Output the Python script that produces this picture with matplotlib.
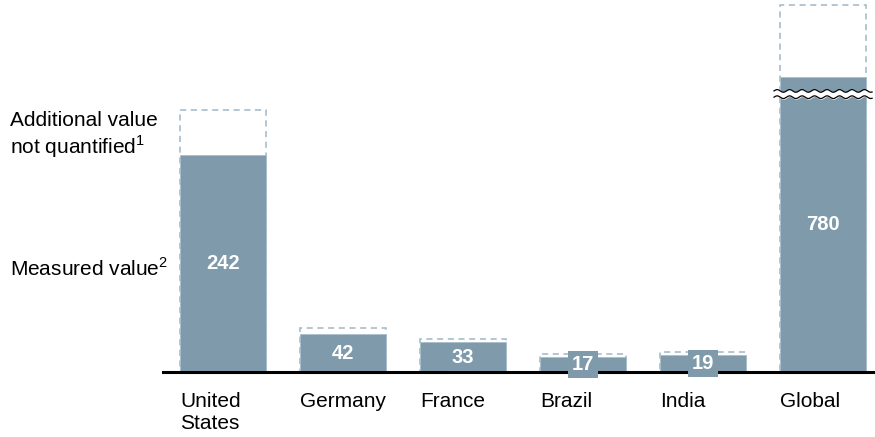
import matplotlib.pyplot as plt
import numpy as np

plt.rcParams['font.family'] = ['Liberation Sans', 'DejaVu Sans']
plt.rcParams['mathtext.fontset'] = 'custom'
plt.rcParams['mathtext.rm'] = 'Liberation Sans'

# Data
categories = ['United\nStates', 'Germany', 'France', 'Brazil', 'India', 'Global']
measured = [242, 42, 33, 17, 19, 780]
additional = [50, 7, 4, 3, 3, 80]
global_shown = 329   # height drawn for the broken Global bar

bar_color = '#7f9bab'
dash_color = '#9fb7c8'

fig = plt.figure(figsize=(8.75, 4.37), dpi=100)
# axes spans from the baseline start (x=163px) to the right edge, baseline at y=372px
ax = fig.add_axes([163 / 875, 65 / 437, 712 / 875, 372 / 437])
ax.set_xlim(-0.5, 5.433)
ax.set_ylim(0, 414.9)
ax.axis('off')

x = np.arange(len(categories))
w = 0.717
heights = [m if m < 400 else global_shown for m in measured]

# dashed boxes for the unquantified part
ax.bar(x, [h + a for h, a in zip(heights, additional)], w, fill=False,
       edgecolor=dash_color, linestyle=(0, (4, 3)), linewidth=1.1, zorder=1)
ax.bar(x, heights, w, color=bar_color, edgecolor='#a9bfcc', linewidth=0.6, zorder=2)

# baseline
ax.axhline(0, xmin=0, xmax=1, color='black', linewidth=2.2, zorder=3, clip_on=False)

# value labels
for xi, h, m in zip(x, heights, measured):
    ax.text(xi, h / 2, str(m), ha='center', va='center', color='white',
            fontsize=14.5, fontweight='bold', zorder=4,
            bbox=dict(boxstyle='square,pad=0.2', fc=bar_color, ec='none'))

# category labels
for xi, c in zip(x, categories):
    ax.text(xi - w / 2, -22, c, ha='left', va='top', fontsize=15,
            linespacing=1.2, clip_on=False)

# axis break on the Global bar
gx = x[-1]
wx = np.linspace(gx - w / 2 - 0.05, gx + w / 2 + 0.05, 300)
wave = 1.5 * np.sin(2 * np.pi * (wx - wx[0]) / 0.104)
y_lo, y_hi = 306.5, 313.5
ax.fill_between(wx, y_lo + wave, y_hi + wave, color='white', zorder=5, clip_on=False)
ax.plot(wx, y_lo + wave, color='black', linewidth=0.9, zorder=6, clip_on=False)
ax.plot(wx, y_hi + wave, color='black', linewidth=0.9, zorder=6, clip_on=False)

# legend-like labels on the left
fig.text(10 / 875, 1 - 111 / 437, 'Additional value\nnot quantified$^1$', ha='left', va='top',
         fontsize=15, linespacing=1.15)
fig.text(10 / 875, 1 - 268 / 437, 'Measured value$^2$', ha='left', va='center', fontsize=15)

fig.savefig('out.png', dpi=100)
